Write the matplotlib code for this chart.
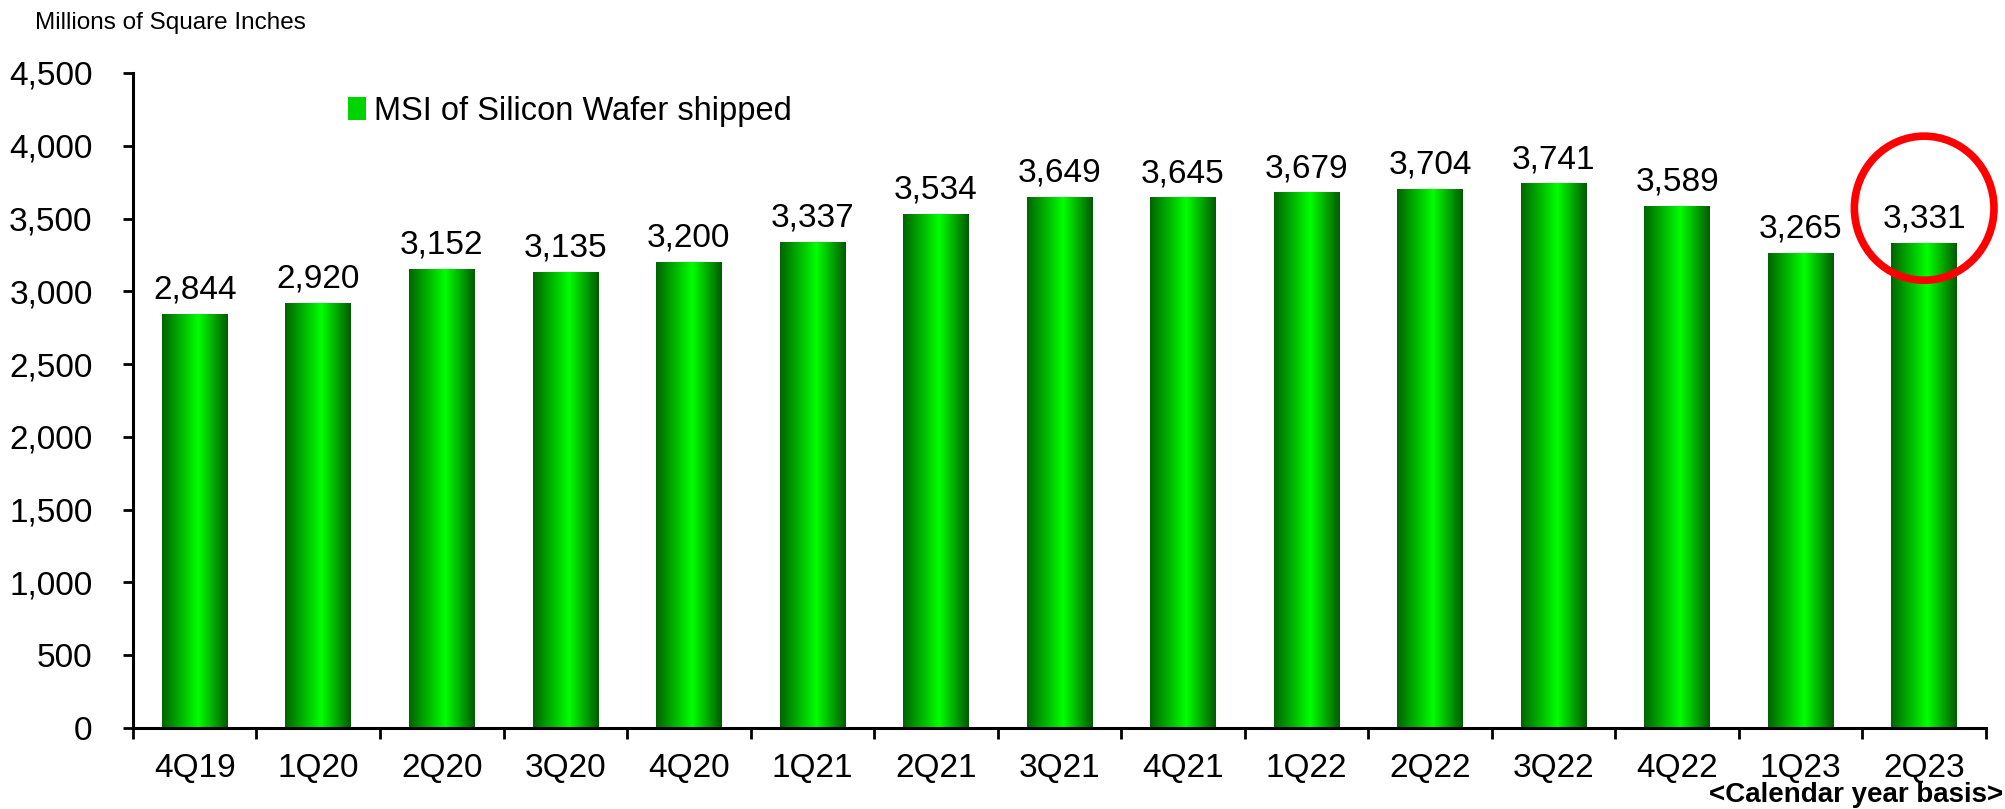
import numpy as np
import matplotlib
matplotlib.use("Agg")
import matplotlib.pyplot as plt
from matplotlib.patches import Ellipse, Rectangle
from matplotlib.colors import LinearSegmentedColormap

plt.rcParams['font.family'] = ['Liberation Sans', 'DejaVu Sans']

# data
quarters = ["4Q19", "1Q20", "2Q20", "3Q20", "4Q20", "1Q21", "2Q21", "3Q21",
            "4Q21", "1Q22", "2Q22", "3Q22", "4Q22", "1Q23", "2Q23"]
msi = [2844, 2920, 3152, 3135, 3200, 3337, 3534, 3649,
       3645, 3679, 3704, 3741, 3589, 3265, 3331]
yticks = [0, 500, 1000, 1500, 2000, 2500, 3000, 3500, 4000, 4500]

# green cylinder-like gradient
green = LinearSegmentedColormap.from_list(
    "bar_green", [(0.0, "#006400"), (0.55, "#00ff00"), (1.0, "#005a00")])
grad = np.linspace(0, 1, 256).reshape(1, -1)

fig = plt.figure(figsize=(20.05, 8.09), dpi=100)
ax = fig.add_axes([0.0663, 0.1001, 0.9242, 0.8097])

x = np.arange(len(quarters))
bars = ax.bar(x, msi, width=0.53, color="none", edgecolor="none", zorder=2)
for b in bars:
    x0, y0 = b.get_x(), b.get_y()
    im = ax.imshow(grad, cmap=green, aspect="auto", zorder=2,
                   extent=[x0, x0 + b.get_width(), y0, y0 + b.get_height()])
    im.set_clip_path(b)

for xi, v in zip(x, msi):
    ax.annotate(f"{v:,}", (xi, v), xytext=(0, 11), textcoords="offset points",
                ha="center", va="baseline", fontsize=24)

ax.set_xlim(-0.5, len(quarters) - 0.5)
ax.set_ylim(0, 4500)
ax.set_yticks(yticks)
ax.set_yticklabels([f"{t:,}" for t in yticks], fontsize=24)
ax.tick_params(axis="y", direction="out", length=7, width=2, pad=22)

# ticks between categories, labels at centers
ax.set_xticks(np.arange(-0.5, len(quarters), 1.0))
ax.set_xticklabels([])
ax.set_xticks(x, minor=True)
ax.set_xticklabels(quarters, minor=True, fontsize=24)
ax.tick_params(axis="x", which="major", direction="out", length=8, width=2)
ax.tick_params(axis="x", which="minor", length=0, pad=18)

for s in ["top", "right"]:
    ax.spines[s].set_visible(False)
for s in ["left", "bottom"]:
    ax.spines[s].set_linewidth(2.2)

# legend entry
leg_patch = Rectangle((0, 0), 1, 1, facecolor="#00d400", edgecolor="none")
ax.legend([leg_patch], ["MSI of Silicon Wafer shipped"], loc="upper left",
          bbox_to_anchor=(0.1, 1.01), frameon=False, fontsize=23.5,
          handlelength=0.55, handleheight=0.7, handletextpad=0.25)

# highlight latest quarter
last = len(quarters) - 1
circ = Ellipse((x[last], msi[last] + 240), width=1.13, height=990, fill=False,
               edgecolor="#ff0000", linewidth=5.5, zorder=4, clip_on=False)
ax.add_patch(circ)

fig.text(0.0175, 0.972, "Millions of Square Inches", fontsize=17.5, va="center")
fig.text(0.999, 0.017, "<Calendar year basis>", fontsize=20, fontweight="bold",
         ha="right", va="center")

fig.savefig("out.png", dpi=100)
